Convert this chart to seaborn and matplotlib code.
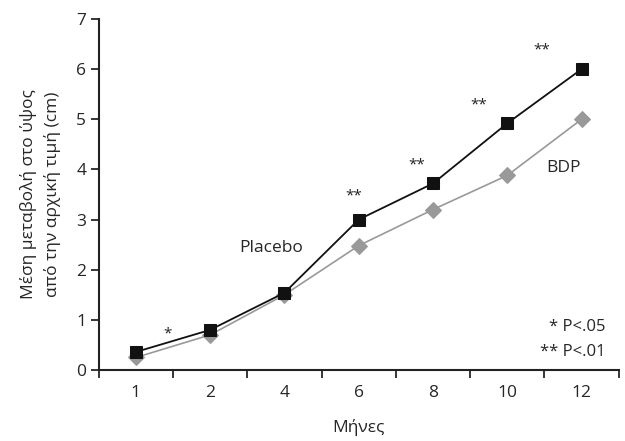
import numpy as np
import pandas as pd
import matplotlib
matplotlib.use("Agg")
import matplotlib.pyplot as plt
import seaborn as sns

months = ["1", "2", "4", "6", "8", "10", "12"]
placebo = [0.36, 0.80, 1.54, 3.00, 3.72, 4.92, 6.00]
bdp = [0.25, 0.70, 1.50, 2.48, 3.20, 3.88, 5.00]

stars_pos = [0.42, 2.93, 3.78, 4.62, 5.46]
stars_y = [0.72, 3.48, 4.08, 5.28, 6.38]
stars_txt = ["*", "**", "**", "**", "**"]

sns.set_style("ticks")
plt.rcParams["font.family"] = ["Open Sans", "DejaVu Sans"]

df = pd.DataFrame({"month": months, "Placebo": placebo, "BDP": bdp})

fig, ax = plt.subplots(figsize=(6.25, 4.41), dpi=100)
fig.subplots_adjust(left=0.158, right=0.99, bottom=0.161, top=0.957)

sns.lineplot(data=df, x="month", y="BDP", ax=ax, color="#999999", lw=1.2,
             marker="D", markersize=8, markeredgecolor="#999999", sort=False)
sns.lineplot(data=df, x="month", y="Placebo", ax=ax, color="#111111", lw=1.3,
             marker="s", markersize=8.5, markeredgecolor="#111111", sort=False)

for x, y, t in zip(stars_pos, stars_y, stars_txt):
    ax.text(x, y, t, ha="center", va="center", fontsize=11, color="#222222")

ax.text(1.82, 2.44, "Placebo", ha="center", va="center", fontsize=12.5)
ax.text(5.75, 4.03, "BDP", ha="center", va="center", fontsize=12.5)
ax.text(6.32, 0.85, "* P<.05", ha="right", va="center", fontsize=12)
ax.text(6.32, 0.36, "** P<.01", ha="right", va="center", fontsize=12)

ax.set_xlim(-0.5, 6.5)
ax.set_ylim(0, 7)
ax.set_yticks(range(8))
ax.set_xticks(range(len(months)))
ax.set_xticklabels(months)
ax.set_xticks(np.arange(-0.5, 7, 1), minor=True)
ax.tick_params(axis="x", which="major", length=0, labelsize=12.5, pad=11)
ax.tick_params(axis="x", which="minor", length=6, width=1.3, direction="out")
ax.tick_params(axis="y", length=6, width=1.3, labelsize=12.5, direction="out", pad=3)

ax.set_xlabel("Μήνες", fontsize=12.5, labelpad=13)
ax.set_ylabel("Μέση μεταβολή στο ύψος\nαπό την αρχική τιμή (cm)", fontsize=12.5,
              labelpad=11, linespacing=1.5)

sns.despine(ax=ax)
for s in ["left", "bottom"]:
    ax.spines[s].set_linewidth(1.5)
    ax.spines[s].set_color("#222222")

fig.savefig("out.png", dpi=100)
